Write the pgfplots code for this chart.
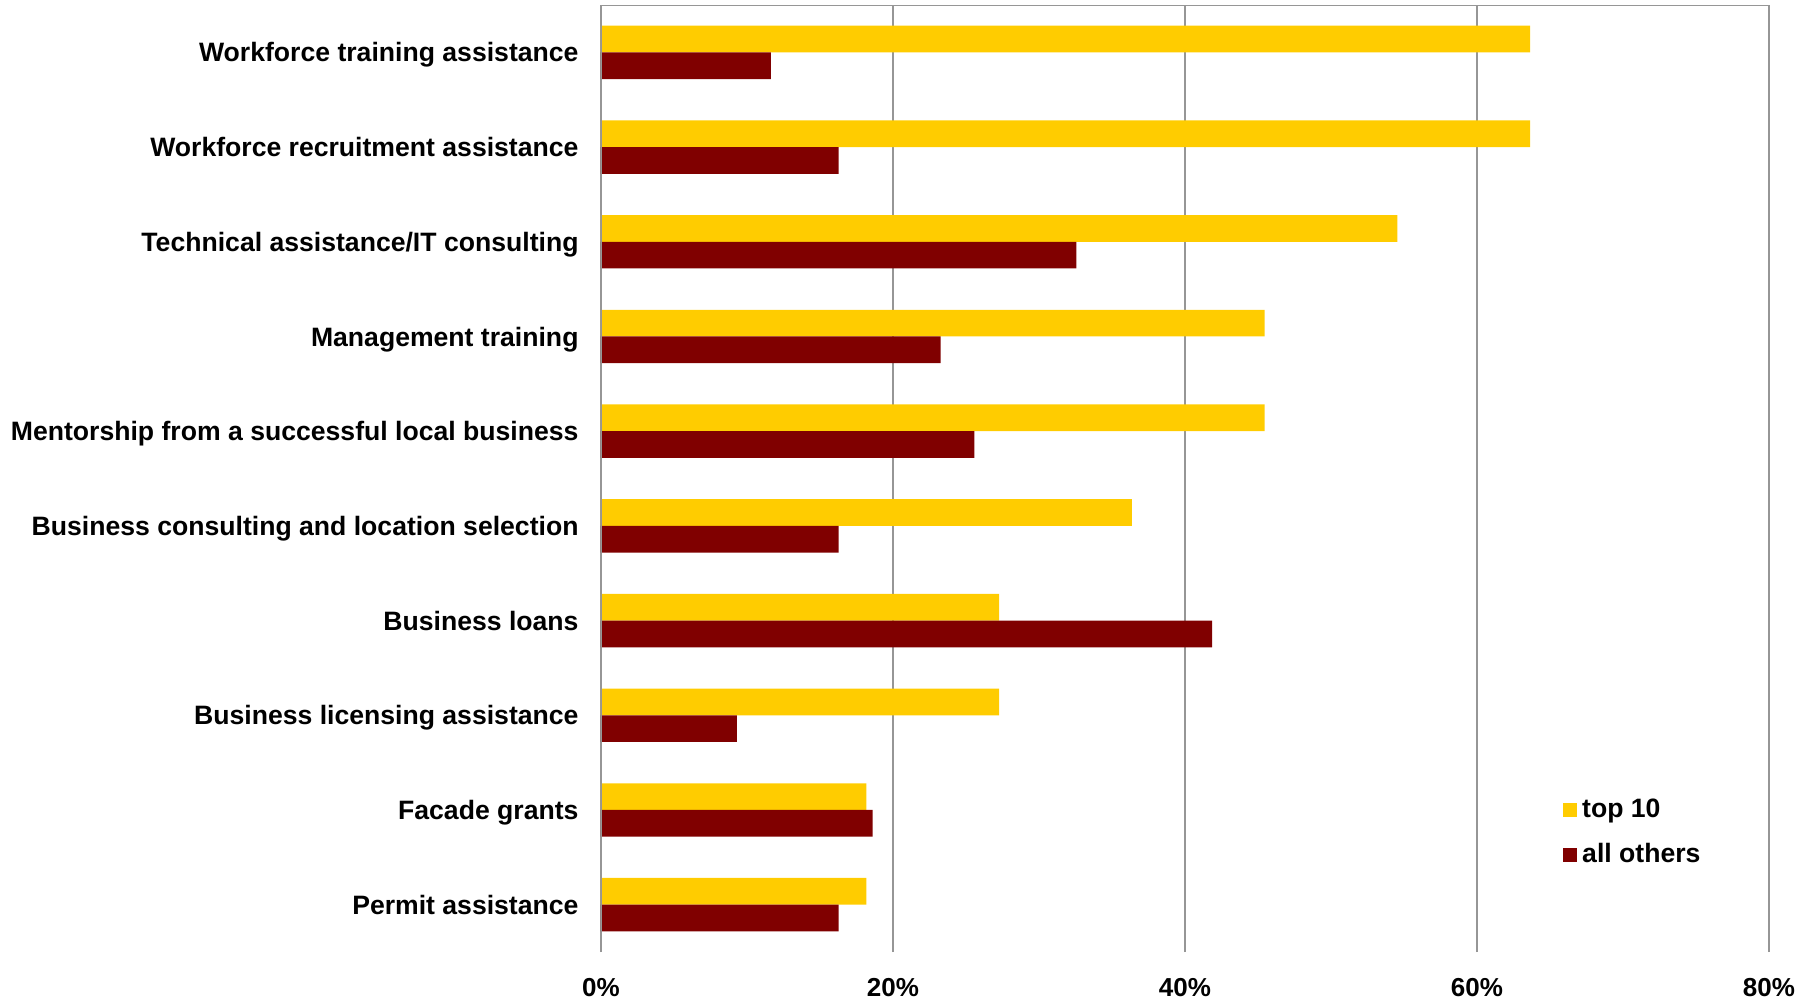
\documentclass[border=0pt]{standalone}
\usepackage{fontspec}
\setmainfont{Liberation Sans}
\usepackage{pgfplots}
\pgfplotsset{compat=1.18}

\definecolor{topten}{RGB}{255,204,0}
\definecolor{others}{RGB}{128,0,0}
\definecolor{gridgray}{RGB}{150,150,150}

\begin{document}
\begin{tikzpicture}
\begin{axis}[
    scale only axis,
    width=584pt, height=473.5pt,
    xbar,
    bar width=0.282,
    xmin=0, xmax=80,
    ymin=-0.5, ymax=9.5,
    xtick={0,20,40,60,80},
    xticklabels={0\%,20\%,40\%,60\%,80\%},
    xtick style={draw=none},
    xmajorgrids,
    major grid style={gridgray, line width=1pt},
    ytick={0,...,9},
    yticklabels={Permit assistance,Facade grants,Business licensing assistance,Business loans,Business consulting and location selection,Mentorship from a successful local business,Management training,Technical assistance/IT consulting,Workforce recruitment assistance,Workforce training assistance},
    ytick style={draw=none},
    minor ytick={-0.5,0.5,...,9.5},
    minor tick length=4pt,
    minor y tick style={gridgray, line width=1pt},
    ytick pos=left,
    tick align=inside,
    axis line style={draw=none},
    xticklabel style={font=\fontsize{13}{15}\selectfont\bfseries, yshift=-9.4pt},
    yticklabel style={font=\fontsize{13.3}{15.5}\selectfont\bfseries,
        text height=0.716em, text depth=0pt, xshift=-7.7pt, yshift=-1.2pt},
    legend style={draw=none, fill=none, at={(rel axis cs:0.818,0.169)}, anchor=north west,
        font=\fontsize{13.3}{15.5}\selectfont\bfseries, row sep=8.3pt, column sep=1.2pt,
        nodes={inner sep=1.5pt}},
    legend cell align=left,
    legend image code/.code={\fill[#1] (0pt,-3.5pt) rectangle (7pt,3.5pt);},
]
% share of "top 10" respondents
\addplot[fill=topten, draw=none, bar shift=0.141] coordinates {
    (18.18,0) (18.18,1) (27.27,2) (27.27,3) (36.36,4)
    (45.45,5) (45.45,6) (54.55,7) (63.64,8) (63.64,9)};
% share of all other respondents
\addplot[fill=others, draw=none, bar shift=-0.141] coordinates {
    (16.28,0) (18.60,1) (9.30,2) (41.86,3) (16.28,4)
    (25.58,5) (23.26,6) (32.56,7) (16.28,8) (11.63,9)};
\legend{top 10, all others}
% frame: left and top edges only
\draw[gridgray, line width=1pt] (rel axis cs:0,0) -- (rel axis cs:0,1) -- (rel axis cs:1,1);
\end{axis}
\pgfresetboundingbox
\path (-300.5pt,-23pt) rectangle (607.5pt,476pt);
\end{tikzpicture}
\end{document}
